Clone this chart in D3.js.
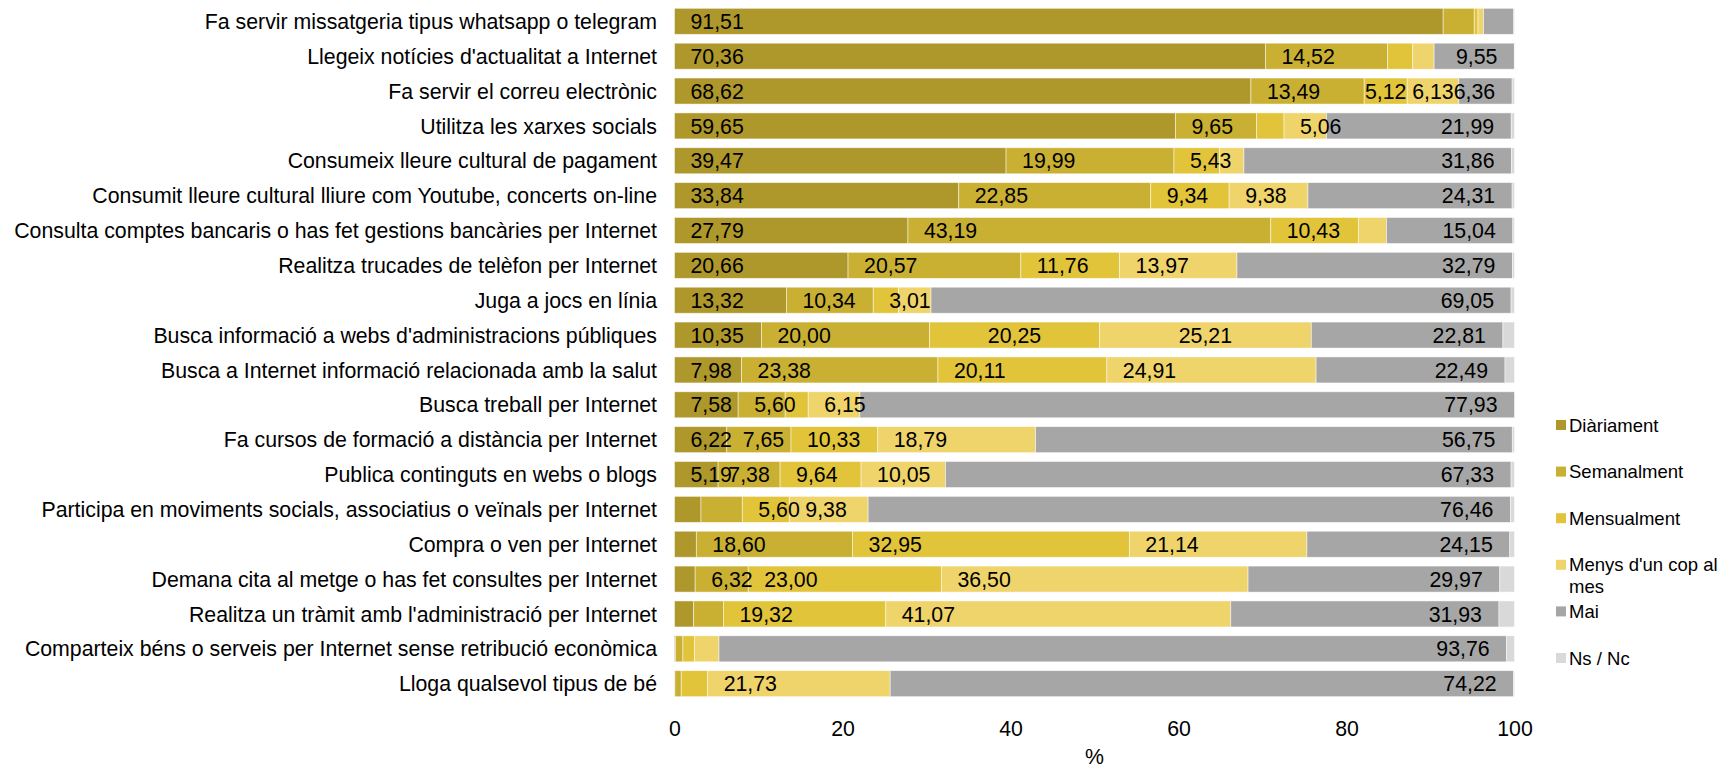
<!DOCTYPE html>
<html>
<head>
<meta charset="utf-8">
<script src="https://cdn.jsdelivr.net/npm/d3@7"></script>
<style>
  body { margin: 0; background: #fff; }
  svg text { font-family: "Liberation Sans", Arial, sans-serif; fill: #000; }
</style>
</head>
<body>
<div id="chart"></div>
<script>
    // activities, top to bottom
    var categories = [
      "Fa servir missatgeria tipus whatsapp o telegram",
      "Llegeix notícies d'actualitat a Internet",
      "Fa servir el correu electrònic",
      "Utilitza les xarxes socials",
      "Consumeix lleure cultural de pagament",
      "Consumit lleure cultural lliure com Youtube, concerts on-line",
      "Consulta comptes bancaris o has fet gestions bancàries per Internet",
      "Realitza trucades de telèfon per Internet",
      "Juga a jocs en línia",
      "Busca informació a webs d'administracions públiques",
      "Busca a Internet informació relacionada amb la salut",
      "Busca treball per Internet",
      "Fa cursos de formació a distància per Internet",
      "Publica continguts en webs o blogs",
      "Participa en moviments socials, associatius o veïnals per Internet",
      "Compra o ven per Internet",
      "Demana cita al metge o has fet consultes per Internet",
      "Realitza un tràmit amb l'administració per Internet",
      "Comparteix béns o serveis per Internet sense retribució econòmica",
      "Lloga qualsevol tipus de bé"
    ];

    var seriesNames = ["Diàriament", "Semanalment", "Mensualment", "Menys d'un cop al mes", "Mai", "Ns / Nc"];
    var seriesColors = ["#ae972b", "#c9b033", "#e1c43a", "#efd36b", "#a6a6a6", "#d9d9d9"];

    var diariament  = [91.51, 70.36, 68.62, 59.65, 39.47, 33.84, 27.79, 20.66, 13.32, 10.35, 7.98, 7.58, 6.22, 5.19, 3.15, 2.60, 2.46, 2.28, 0.10, 0.05];
    var semanalment = [3.70, 14.52, 13.49, 9.65, 19.99, 22.85, 43.19, 20.57, 10.34, 20.00, 23.38, 5.60, 7.65, 7.38, 4.92, 18.60, 6.32, 3.55, 0.90, 0.75];
    var mensualment = [0.45, 3.00, 5.12, 3.26, 5.43, 9.34, 10.43, 11.76, 3.01, 20.25, 20.11, 2.74, 10.33, 9.64, 5.60, 32.95, 23.00, 19.32, 1.40, 3.15];
    var menysMes    = [0.65, 2.55, 6.13, 5.06, 2.90, 9.38, 3.35, 13.97, 3.87, 25.21, 24.91, 6.15, 18.79, 10.05, 9.38, 21.14, 36.50, 41.07, 2.90, 21.73];
    var mai         = [3.60, 9.55, 6.36, 21.99, 31.86, 24.31, 15.04, 32.79, 69.05, 22.81, 22.49, 77.93, 56.75, 67.33, 76.46, 24.15, 29.97, 31.93, 93.76, 74.22];
    var nsnc        = [0.09, 0.02, 0.28, 0.39, 0.35, 0.28, 0.20, 0.25, 0.41, 1.38, 1.13, 0.00, 0.26, 0.41, 0.49, 0.56, 1.75, 1.85, 0.94, 0.10];

    var xTicks = [0, 20, 40, 60, 80, 100];

    // labels under this value are not shown, except the ones listed
    var labelMin = 5;
    var extraLabels = [["Juga a jocs en línia", "Mensualment"]];
    // labels that sit in the middle of their segment (the rest sit at the base, Mai at the end)
    var centredLabels = [
      ["Fa servir el correu electrònic", "Mensualment"],
      ["Fa servir el correu electrònic", "Menys d'un cop al mes"],
      ["Busca informació a webs d'administracions públiques", "Mensualment"],
      ["Busca informació a webs d'administracions públiques", "Menys d'un cop al mes"],
      ["Publica continguts en webs o blogs", "Semanalment"]
    ];

    var allSeries = [diariament, semanalment, mensualment, menysMes, mai, nsnc];
    var rows = categories.map(function(c, i) {
      var r = {cat: c};
      seriesNames.forEach(function(s, j) { r[s] = allSeries[j][i]; });
      return r;
    });

    var width = 1721, height = 765;
    var plotLeft = 674.5, plotRight = 1514.5, plotTop = 3.9, plotBottom = 701.1;
    var fontSize = 21.3;

    var svg = d3.select("#chart").append("svg")
        .attr("width", width)
        .attr("height", height);

    var x = d3.scaleLinear().domain([0, 100]).range([plotLeft, plotRight]);
    var y = d3.scaleBand().domain(categories).range([plotTop, plotBottom])
              .paddingInner(0.254).paddingOuter(0.127);
    var color = d3.scaleOrdinal().domain(seriesNames).range(seriesColors);

    var stacked = d3.stack().keys(seriesNames)(rows);

    var num = d3.formatLocale({decimal: ",", thousands: ".", grouping: [3], currency: ["", "€"]}).format(".2f");

    // bars
    var layers = svg.append("g").attr("class", "bars")
      .selectAll("g")
      .data(stacked)
      .enter().append("g")
        .attr("fill", function(d) { return color(d.key); });

    layers.selectAll("rect")
      .data(function(d) { return d; })
      .enter().append("rect")
        .attr("x", function(d) { return x(d[0]); })
        .attr("y", function(d) { return y(d.data.cat); })
        .attr("width", function(d) { return Math.max(0, x(d[1]) - x(d[0])); })
        .attr("height", y.bandwidth())
        .attr("stroke", "#fff")
        .attr("stroke-opacity", 0.6)
        .attr("stroke-width", 0.8);

    // value labels
    function has(list, cat, key) {
      return list.some(function(p) { return p[0] === cat && p[1] === key; });
    }
    var pad = 16;
    stacked.forEach(function(layer) {
      var key = layer.key;
      layer.forEach(function(d) {
        var v = d[1] - d[0], cat = d.data.cat;
        if (key === "Ns / Nc") return;
        if (v < labelMin && !has(extraLabels, cat, key)) return;
        var anchor = "start", lx = x(d[0]) + pad;
        if (key === "Mai") { anchor = "end"; lx = x(d[1]) - pad - 1; }
        if (has(centredLabels, cat, key)) { anchor = "middle"; lx = (x(d[0]) + x(d[1])) / 2; }
        svg.append("text")
          .attr("x", lx)
          .attr("y", y(cat) + y.bandwidth() / 2)
          .attr("dy", "0.36em")
          .attr("text-anchor", anchor)
          .style("font-size", fontSize + "px")
          .text(num(d.data[key]));
      });
    });

    // category labels
    svg.append("g").attr("class", "cats")
      .selectAll("text")
      .data(categories)
      .enter().append("text")
        .attr("x", plotLeft - 17.5)
        .attr("y", function(d) { return y(d) + y.bandwidth() / 2; })
        .attr("dy", "0.36em")
        .attr("text-anchor", "end")
        .style("font-size", fontSize + "px")
        .text(function(d) { return d; });

    // x axis, labels only
    var xAxis = svg.append("g")
        .attr("transform", "translate(0," + (plotBottom + 12) + ")")
        .call(d3.axisBottom(x).tickValues(xTicks).tickSize(0).tickPadding(8));
    xAxis.select(".domain").remove();
    xAxis.selectAll("text")
        .style("font-size", fontSize + "px")
        .style("font-family", '"Liberation Sans", Arial, sans-serif')
        .attr("fill", "#000");

    svg.append("text")
        .attr("x", (plotLeft + plotRight) / 2)
        .attr("y", 764)
        .attr("text-anchor", "middle")
        .style("font-size", fontSize + "px")
        .text("%");

    // legend
    var legend = svg.append("g").attr("class", "legend")
      .selectAll("g")
      .data(seriesNames)
      .enter().append("g")
        .attr("transform", function(d, i) { return "translate(1556," + (425 + i * 46.6) + ")"; });

    legend.append("rect")
        .attr("x", 0).attr("y", -5)
        .attr("width", 10).attr("height", 10)
        .attr("fill", function(d) { return color(d); });

    legend.append("text")
        .attr("x", 13)
        .style("font-size", "18.5px")
        .each(function(d) {
          var t = d3.select(this);
          var parts = d === "Menys d'un cop al mes" ? ["Menys d'un cop al", "mes"] : [d];
          parts.forEach(function(p, k) {
            t.append("tspan").attr("x", 13).attr("y", k * 22).attr("dy", "0.36em").text(p);
          });
        });
</script>
</body>
</html>
